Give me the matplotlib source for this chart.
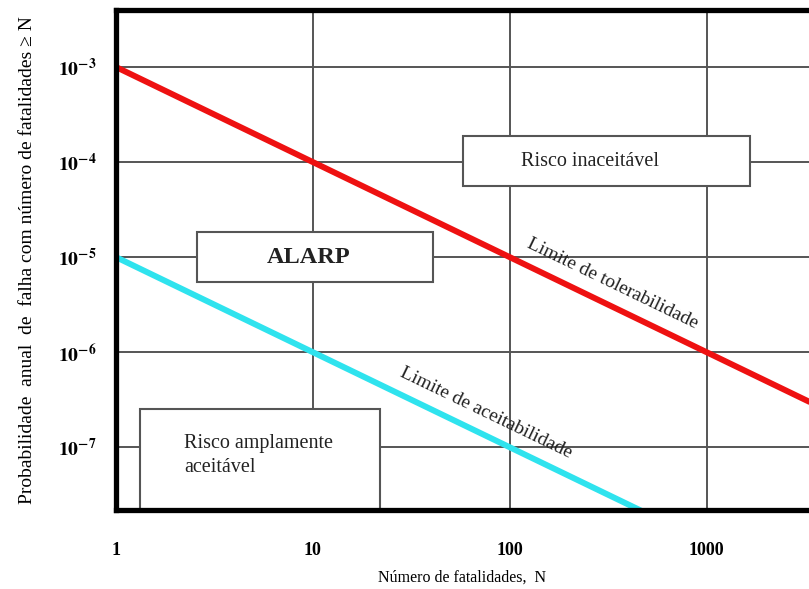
import numpy as np
import matplotlib
matplotlib.use('Agg')
import matplotlib.pyplot as plt
from matplotlib.patches import Rectangle

# ------------------------------------------------
# F-N curve data

n_fatal = [1, 10, 100, 1000, 10000]
tolerability = [1e-3, 1e-4, 1e-5, 1e-6, 1e-7]
acceptability = [1e-5, 1e-6, 1e-7, 1e-8, 1e-9]

x_ticks = [1, 10, 100, 1000]
x_ticklabels = ['1', '10', '100', '1000']
y_ticks = [1e-7, 1e-6, 1e-5, 1e-4, 1e-3]
y_ticklabels = [r'$\mathbf{10^{-7}}$', r'$\mathbf{10^{-6}}$', r'$\mathbf{10^{-5}}$',
                r'$\mathbf{10^{-4}}$', r'$\mathbf{10^{-3}}$']

# region boxes: (x0, x1, y0, y1, label)
boxes = [
    (58, 1660, 10**-4.25, 10**-3.73, 'Risco inaceitável'),
    (2.57, 40.6, 10**-5.26, 10**-4.74, 'ALARP'),
    (1.32, 21.8, 10**-7.7, 10**-6.6, 'Risco amplamente\naceitável'),
]

# ------------------------------------------------

plt.rcParams['font.family'] = ['Liberation Serif', 'DejaVu Serif']
plt.rcParams['mathtext.fontset'] = 'stix'

fig = plt.figure(figsize=(8.09, 5.89), dpi=100)
ax = fig.add_axes([116/809, 1 - 510/589, 1 - 116/809, 500/589])

ax.set_xscale('log')
ax.set_yscale('log')
ax.set_xlim(1, 10**3.52)
ax.set_ylim(10**-7.66, 10**-2.4)

ax.set_xticks(x_ticks)
ax.set_xticklabels(x_ticklabels, fontsize=13, fontweight='bold')
ax.set_yticks(y_ticks)
ax.set_yticklabels(y_ticklabels, fontsize=14)
ax.minorticks_off()
ax.tick_params(axis='x', length=0, pad=23)
ax.tick_params(axis='y', length=0, pad=14)

ax.grid(True, color='#555555', linewidth=1.4, zorder=0)
ax.set_axisbelow(True)

for side in ['left', 'bottom', 'top']:
    ax.spines[side].set_linewidth(3.8)
    ax.spines[side].set_color('black')
    ax.spines[side].set_zorder(10)
ax.spines['right'].set_visible(False)

for x0, x1, y0, y1, label in boxes:
    ax.add_patch(Rectangle((x0, y0), x1 - x0, y1 - y0, facecolor='white',
                           edgecolor='#555555', linewidth=1.5, zorder=3))
    xc = np.sqrt(x0 * x1)
    yc = np.sqrt(max(y0, 10**-7.66) * y1)
    if label == 'ALARP':
        ax.text(xc * 0.93, yc, label, ha='center', va='center', fontsize=17.5,
                fontweight='bold', color='#222222', zorder=4)
    elif label.startswith('Risco ampl'):
        ax.text(x0 * 1.68, yc * 1.1, label, ha='left', va='center', fontsize=14.5,
                color='#222222', linespacing=1.35, zorder=4)
    else:
        ax.text(xc * 0.82, yc, label, ha='center', va='center', fontsize=14.5,
                color='#222222', zorder=4)

ax.plot(n_fatal, tolerability, color='#ee1111', linewidth=4.3, solid_capstyle='butt', zorder=5)
ax.plot(n_fatal, acceptability, color='#2fe3ee', linewidth=4.3, solid_capstyle='butt', zorder=5)

# rotated labels along lines
fig.canvas.draw()
p1 = ax.transData.transform((1, 1e-3))
p2 = ax.transData.transform((1000, 1e-6))
ang = np.degrees(np.arctan2(p2[1] - p1[1], p2[0] - p1[0]))
nx, ny = -np.sin(np.radians(ang)), np.cos(np.radians(ang))
off = 15
ax.annotate('Limite de tolerabilidade', xy=(300, 1e-3 / 300), xytext=(nx * off, ny * off),
            textcoords='offset points', rotation=ang, rotation_mode='anchor',
            ha='center', va='center', fontsize=14, color='#222222', zorder=6)
ax.annotate('Limite de aceitabilidade', xy=(68, 1e-5 / 68), xytext=(nx * off, ny * off),
            textcoords='offset points', rotation=ang, rotation_mode='anchor',
            ha='center', va='center', fontsize=14, color='#222222', zorder=6)

ax.set_xlabel('Número de fatalidades,  N', fontsize=11.5, labelpad=8)
ax.set_ylabel('Probabilidade  anual  de  falha com número de fatalidades ≥ N', fontsize=14, labelpad=16)

fig.savefig('out.png', dpi=100)
